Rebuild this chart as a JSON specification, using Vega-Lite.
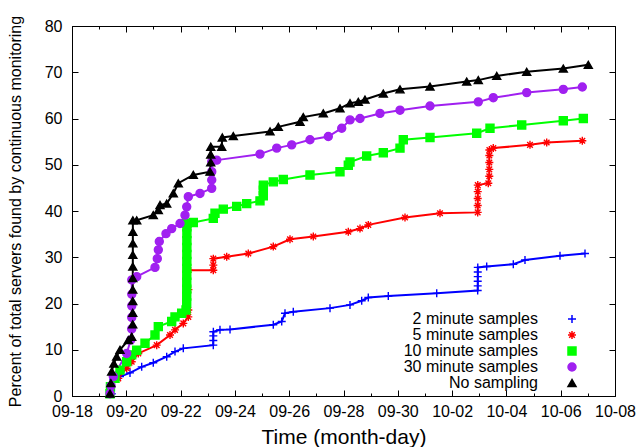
{
  "$schema": "https://vega.github.io/schema/vega-lite/v6.json",
  "width": 543,
  "height": 370,
  "autosize": "none",
  "padding": {"left": 72, "top": 26, "right": 21, "bottom": 51},
  "background": "white",
  "config": {
    "font": "Liberation Sans",
    "view": {"stroke": "black", "strokeWidth": 1},
    "axis": {"grid": false, "domainColor": "black", "tickColor": "black", "labelColor": "black", "titleColor": "black", "labelFontSize": 16, "labelFont": "Liberation Sans", "titleFont": "Liberation Sans", "titleFontWeight": "normal"},
    "legend": {"title": null, "orient": "none", "legendX": 492, "legendY": 285, "labelAlign": "right", "labelOffset": -42, "labelFontSize": 16, "labelFont": "Liberation Sans", "labelColor": "black", "rowPadding": 0, "padding": 0, "labelLimit": 300}
  },
  "data": {"values": [
    {"series": "2 minute samples", "time": "2010-09-19T11:05", "percent": 0.5},
    {"series": "2 minute samples", "time": "2010-09-19T12:30", "percent": 3.5},
    {"series": "2 minute samples", "time": "2010-09-19T18:26", "percent": 4.2},
    {"series": "2 minute samples", "time": "2010-09-20T03:16", "percent": 5.0},
    {"series": "2 minute samples", "time": "2010-09-20T13:36", "percent": 6.3},
    {"series": "2 minute samples", "time": "2010-09-20T23:51", "percent": 7.2},
    {"series": "2 minute samples", "time": "2010-09-21T11:43", "percent": 8.5},
    {"series": "2 minute samples", "time": "2010-09-21T19:03", "percent": 9.6},
    {"series": "2 minute samples", "time": "2010-09-22T02:23", "percent": 10.3},
    {"series": "2 minute samples", "time": "2010-09-23T04:54", "percent": 11.0},
    {"series": "2 minute samples", "time": "2010-09-23T04:55", "percent": 12.0},
    {"series": "2 minute samples", "time": "2010-09-23T04:56", "percent": 13.0},
    {"series": "2 minute samples", "time": "2010-09-23T04:57", "percent": 13.9},
    {"series": "2 minute samples", "time": "2010-09-23T10:49", "percent": 14.3},
    {"series": "2 minute samples", "time": "2010-09-23T19:41", "percent": 14.4},
    {"series": "2 minute samples", "time": "2010-09-25T09:56", "percent": 15.4},
    {"series": "2 minute samples", "time": "2010-09-25T17:23", "percent": 16.1},
    {"series": "2 minute samples", "time": "2010-09-25T20:17", "percent": 17.9},
    {"series": "2 minute samples", "time": "2010-09-26T03:37", "percent": 18.2},
    {"series": "2 minute samples", "time": "2010-09-27T12:04", "percent": 19.0},
    {"series": "2 minute samples", "time": "2010-09-28T05:44", "percent": 19.7},
    {"series": "2 minute samples", "time": "2010-09-28T16:05", "percent": 20.6},
    {"series": "2 minute samples", "time": "2010-09-28T21:55", "percent": 21.3},
    {"series": "2 minute samples", "time": "2010-09-29T15:36", "percent": 21.6},
    {"series": "2 minute samples", "time": "2010-10-01T10:24", "percent": 22.2},
    {"series": "2 minute samples", "time": "2010-10-02T22:37", "percent": 22.8},
    {"series": "2 minute samples", "time": "2010-10-02T22:38", "percent": 23.8},
    {"series": "2 minute samples", "time": "2010-10-02T22:39", "percent": 24.8},
    {"series": "2 minute samples", "time": "2010-10-02T22:40", "percent": 25.8},
    {"series": "2 minute samples", "time": "2010-10-02T22:41", "percent": 26.8},
    {"series": "2 minute samples", "time": "2010-10-02T22:42", "percent": 27.8},
    {"series": "2 minute samples", "time": "2010-10-03T06:35", "percent": 28.0},
    {"series": "2 minute samples", "time": "2010-10-04T06:06", "percent": 28.5},
    {"series": "2 minute samples", "time": "2010-10-04T16:26", "percent": 29.4},
    {"series": "2 minute samples", "time": "2010-10-05T23:23", "percent": 30.3},
    {"series": "2 minute samples", "time": "2010-10-06T21:29", "percent": 30.8},

    {"series": "5 minute samples", "time": "2010-09-19T09:36", "percent": 0.5},
    {"series": "5 minute samples", "time": "2010-09-19T10:00", "percent": 2.0},
    {"series": "5 minute samples", "time": "2010-09-19T16:55", "percent": 3.8},
    {"series": "5 minute samples", "time": "2010-09-20T00:22", "percent": 6.0},
    {"series": "5 minute samples", "time": "2010-09-20T04:47", "percent": 7.4},
    {"series": "5 minute samples", "time": "2010-09-20T10:36", "percent": 9.2},
    {"series": "5 minute samples", "time": "2010-09-21T02:53", "percent": 11.0},
    {"series": "5 minute samples", "time": "2010-09-21T14:38", "percent": 13.2},
    {"series": "5 minute samples", "time": "2010-09-21T19:03", "percent": 14.3},
    {"series": "5 minute samples", "time": "2010-09-22T02:23", "percent": 15.7},
    {"series": "5 minute samples", "time": "2010-09-22T06:49", "percent": 17.1},
    {"series": "5 minute samples", "time": "2010-09-22T06:50", "percent": 18.6},
    {"series": "5 minute samples", "time": "2010-09-22T06:55", "percent": 23.0},
    {"series": "5 minute samples", "time": "2010-09-22T07:00", "percent": 27.2},
    {"series": "5 minute samples", "time": "2010-09-23T04:54", "percent": 27.2},
    {"series": "5 minute samples", "time": "2010-09-23T04:55", "percent": 28.3},
    {"series": "5 minute samples", "time": "2010-09-23T04:56", "percent": 29.7},
    {"series": "5 minute samples", "time": "2010-09-23T16:45", "percent": 30.1},
    {"series": "5 minute samples", "time": "2010-09-24T11:51", "percent": 30.8},
    {"series": "5 minute samples", "time": "2010-09-25T09:56", "percent": 32.3},
    {"series": "5 minute samples", "time": "2010-09-26T00:42", "percent": 33.9},
    {"series": "5 minute samples", "time": "2010-09-26T21:19", "percent": 34.5},
    {"series": "5 minute samples", "time": "2010-09-28T04:15", "percent": 35.5},
    {"series": "5 minute samples", "time": "2010-09-28T14:36", "percent": 36.2},
    {"series": "5 minute samples", "time": "2010-09-28T21:55", "percent": 37.0},
    {"series": "5 minute samples", "time": "2010-09-30T06:22", "percent": 38.6},
    {"series": "5 minute samples", "time": "2010-10-01T13:18", "percent": 39.5},
    {"series": "5 minute samples", "time": "2010-10-02T22:37", "percent": 39.7},
    {"series": "5 minute samples", "time": "2010-10-02T22:38", "percent": 41.2},
    {"series": "5 minute samples", "time": "2010-10-02T22:39", "percent": 42.7},
    {"series": "5 minute samples", "time": "2010-10-02T22:40", "percent": 44.2},
    {"series": "5 minute samples", "time": "2010-10-02T22:41", "percent": 45.6},
    {"series": "5 minute samples", "time": "2010-10-03T08:00", "percent": 46.0},
    {"series": "5 minute samples", "time": "2010-10-03T08:53", "percent": 47.5},
    {"series": "5 minute samples", "time": "2010-10-03T08:54", "percent": 49.0},
    {"series": "5 minute samples", "time": "2010-10-03T08:55", "percent": 50.5},
    {"series": "5 minute samples", "time": "2010-10-03T08:56", "percent": 52.0},
    {"series": "5 minute samples", "time": "2010-10-03T08:57", "percent": 53.2},
    {"series": "5 minute samples", "time": "2010-10-03T12:24", "percent": 53.6},
    {"series": "5 minute samples", "time": "2010-10-04T20:51", "percent": 54.3},
    {"series": "5 minute samples", "time": "2010-10-05T11:37", "percent": 54.8},
    {"series": "5 minute samples", "time": "2010-10-06T19:06", "percent": 55.2},

    {"series": "10 minute samples", "time": "2010-09-19T09:36", "percent": 0.5},
    {"series": "10 minute samples", "time": "2010-09-19T10:00", "percent": 2.0},
    {"series": "10 minute samples", "time": "2010-09-19T14:01", "percent": 3.8},
    {"series": "10 minute samples", "time": "2010-09-19T18:26", "percent": 5.6},
    {"series": "10 minute samples", "time": "2010-09-20T00:22", "percent": 7.4},
    {"series": "10 minute samples", "time": "2010-09-20T04:47", "percent": 8.9},
    {"series": "10 minute samples", "time": "2010-09-20T09:12", "percent": 9.9},
    {"series": "10 minute samples", "time": "2010-09-20T16:32", "percent": 11.4},
    {"series": "10 minute samples", "time": "2010-09-21T01:22", "percent": 13.2},
    {"series": "10 minute samples", "time": "2010-09-21T04:18", "percent": 15.0},
    {"series": "10 minute samples", "time": "2010-09-21T16:08", "percent": 16.1},
    {"series": "10 minute samples", "time": "2010-09-21T19:03", "percent": 17.1},
    {"series": "10 minute samples", "time": "2010-09-22T00:58", "percent": 17.9},
    {"series": "10 minute samples", "time": "2010-09-22T04:47", "percent": 18.6},
    {"series": "10 minute samples", "time": "2010-09-22T05:24", "percent": 20.1},
    {"series": "10 minute samples", "time": "2010-09-22T05:25", "percent": 21.6},
    {"series": "10 minute samples", "time": "2010-09-22T05:26", "percent": 23.1},
    {"series": "10 minute samples", "time": "2010-09-22T05:27", "percent": 24.6},
    {"series": "10 minute samples", "time": "2010-09-22T05:28", "percent": 26.1},
    {"series": "10 minute samples", "time": "2010-09-22T05:29", "percent": 27.6},
    {"series": "10 minute samples", "time": "2010-09-22T05:30", "percent": 29.1},
    {"series": "10 minute samples", "time": "2010-09-22T05:31", "percent": 30.6},
    {"series": "10 minute samples", "time": "2010-09-22T05:32", "percent": 32.1},
    {"series": "10 minute samples", "time": "2010-09-22T05:33", "percent": 33.6},
    {"series": "10 minute samples", "time": "2010-09-22T05:34", "percent": 35.1},
    {"series": "10 minute samples", "time": "2010-09-22T05:35", "percent": 36.6},
    {"series": "10 minute samples", "time": "2010-09-22T05:36", "percent": 37.3},
    {"series": "10 minute samples", "time": "2010-09-22T11:14", "percent": 37.5},
    {"series": "10 minute samples", "time": "2010-09-23T04:54", "percent": 38.4},
    {"series": "10 minute samples", "time": "2010-09-23T06:24", "percent": 39.5},
    {"series": "10 minute samples", "time": "2010-09-23T13:45", "percent": 40.4},
    {"series": "10 minute samples", "time": "2010-09-24T01:35", "percent": 41.0},
    {"series": "10 minute samples", "time": "2010-09-24T10:26", "percent": 41.6},
    {"series": "10 minute samples", "time": "2010-09-24T22:11", "percent": 42.2},
    {"series": "10 minute samples", "time": "2010-09-25T01:06", "percent": 43.3},
    {"series": "10 minute samples", "time": "2010-09-25T01:07", "percent": 44.5},
    {"series": "10 minute samples", "time": "2010-09-25T01:08", "percent": 45.6},
    {"series": "10 minute samples", "time": "2010-09-25T09:56", "percent": 46.3},
    {"series": "10 minute samples", "time": "2010-09-25T18:48", "percent": 46.8},
    {"series": "10 minute samples", "time": "2010-09-26T18:23", "percent": 47.8},
    {"series": "10 minute samples", "time": "2010-09-27T20:54", "percent": 48.5},
    {"series": "10 minute samples", "time": "2010-09-28T04:15", "percent": 49.9},
    {"series": "10 minute samples", "time": "2010-09-28T05:44", "percent": 50.6},
    {"series": "10 minute samples", "time": "2010-09-28T20:30", "percent": 51.9},
    {"series": "10 minute samples", "time": "2010-09-29T11:11", "percent": 52.6},
    {"series": "10 minute samples", "time": "2010-09-30T01:57", "percent": 53.6},
    {"series": "10 minute samples", "time": "2010-09-30T04:52", "percent": 55.4},
    {"series": "10 minute samples", "time": "2010-10-01T04:28", "percent": 55.9},
    {"series": "10 minute samples", "time": "2010-10-02T21:45", "percent": 56.8},
    {"series": "10 minute samples", "time": "2010-10-03T09:30", "percent": 57.9},
    {"series": "10 minute samples", "time": "2010-10-04T13:32", "percent": 58.6},
    {"series": "10 minute samples", "time": "2010-10-06T02:18", "percent": 59.5},
    {"series": "10 minute samples", "time": "2010-10-06T20:00", "percent": 60.0},

    {"series": "30 minute samples", "time": "2010-09-19T09:36", "percent": 0.5},
    {"series": "30 minute samples", "time": "2010-09-19T10:30", "percent": 2.2},
    {"series": "30 minute samples", "time": "2010-09-19T12:30", "percent": 4.2},
    {"series": "30 minute samples", "time": "2010-09-20T00:22", "percent": 9.2},
    {"series": "30 minute samples", "time": "2010-09-20T03:53", "percent": 12.1},
    {"series": "30 minute samples", "time": "2010-09-20T04:47", "percent": 14.5},
    {"series": "30 minute samples", "time": "2010-09-20T04:48", "percent": 17.0},
    {"series": "30 minute samples", "time": "2010-09-20T04:49", "percent": 19.5},
    {"series": "30 minute samples", "time": "2010-09-20T04:50", "percent": 22.0},
    {"series": "30 minute samples", "time": "2010-09-20T04:51", "percent": 25.1},
    {"series": "30 minute samples", "time": "2010-09-20T09:12", "percent": 25.8},
    {"series": "30 minute samples", "time": "2010-09-21T01:22", "percent": 27.8},
    {"series": "30 minute samples", "time": "2010-09-21T03:24", "percent": 29.7},
    {"series": "30 minute samples", "time": "2010-09-21T04:18", "percent": 31.6},
    {"series": "30 minute samples", "time": "2010-09-21T05:10", "percent": 33.4},
    {"series": "30 minute samples", "time": "2010-09-21T11:05", "percent": 35.1},
    {"series": "30 minute samples", "time": "2010-09-21T16:08", "percent": 36.2},
    {"series": "30 minute samples", "time": "2010-09-21T23:28", "percent": 37.3},
    {"series": "30 minute samples", "time": "2010-09-22T03:53", "percent": 39.1},
    {"series": "30 minute samples", "time": "2010-09-22T05:24", "percent": 40.9},
    {"series": "30 minute samples", "time": "2010-09-22T06:49", "percent": 43.1},
    {"series": "30 minute samples", "time": "2010-09-22T17:10", "percent": 43.8},
    {"series": "30 minute samples", "time": "2010-09-23T03:30", "percent": 44.9},
    {"series": "30 minute samples", "time": "2010-09-23T03:31", "percent": 46.7},
    {"series": "30 minute samples", "time": "2010-09-23T03:32", "percent": 48.5},
    {"series": "30 minute samples", "time": "2010-09-23T03:33", "percent": 50.7},
    {"series": "30 minute samples", "time": "2010-09-23T07:55", "percent": 51.0},
    {"series": "30 minute samples", "time": "2010-09-24T22:11", "percent": 52.3},
    {"series": "30 minute samples", "time": "2010-09-25T12:58", "percent": 53.6},
    {"series": "30 minute samples", "time": "2010-09-26T02:12", "percent": 54.3},
    {"series": "30 minute samples", "time": "2010-09-26T18:23", "percent": 55.4},
    {"series": "30 minute samples", "time": "2010-09-27T10:34", "percent": 56.1},
    {"series": "30 minute samples", "time": "2010-09-27T22:25", "percent": 57.9},
    {"series": "30 minute samples", "time": "2010-09-28T05:44", "percent": 59.7},
    {"series": "30 minute samples", "time": "2010-09-28T14:36", "percent": 60.0},
    {"series": "30 minute samples", "time": "2010-09-29T08:15", "percent": 61.1},
    {"series": "30 minute samples", "time": "2010-09-30T01:57", "percent": 61.8},
    {"series": "30 minute samples", "time": "2010-10-01T04:28", "percent": 62.7},
    {"series": "30 minute samples", "time": "2010-10-02T23:10", "percent": 63.6},
    {"series": "30 minute samples", "time": "2010-10-03T12:24", "percent": 64.5},
    {"series": "30 minute samples", "time": "2010-10-04T17:57", "percent": 65.6},
    {"series": "30 minute samples", "time": "2010-10-06T02:18", "percent": 66.3},
    {"series": "30 minute samples", "time": "2010-10-06T19:06", "percent": 66.8},

    {"series": "No sampling", "time": "2010-09-19T09:36", "percent": 0.5},
    {"series": "No sampling", "time": "2010-09-19T10:20", "percent": 2.8},
    {"series": "No sampling", "time": "2010-09-19T11:05", "percent": 5.3},
    {"series": "No sampling", "time": "2010-09-19T13:00", "percent": 7.0},
    {"series": "No sampling", "time": "2010-09-19T15:30", "percent": 8.5},
    {"series": "No sampling", "time": "2010-09-19T18:26", "percent": 10.0},
    {"series": "No sampling", "time": "2010-09-20T01:47", "percent": 12.1},
    {"series": "No sampling", "time": "2010-09-20T04:47", "percent": 12.8},
    {"series": "No sampling", "time": "2010-09-20T05:40", "percent": 15.5},
    {"series": "No sampling", "time": "2010-09-20T05:41", "percent": 18.0},
    {"series": "No sampling", "time": "2010-09-20T05:42", "percent": 20.5},
    {"series": "No sampling", "time": "2010-09-20T05:43", "percent": 23.0},
    {"series": "No sampling", "time": "2010-09-20T05:44", "percent": 25.5},
    {"series": "No sampling", "time": "2010-09-20T05:45", "percent": 28.0},
    {"series": "No sampling", "time": "2010-09-20T05:46", "percent": 30.5},
    {"series": "No sampling", "time": "2010-09-20T05:47", "percent": 33.0},
    {"series": "No sampling", "time": "2010-09-20T05:48", "percent": 35.5},
    {"series": "No sampling", "time": "2010-09-20T05:49", "percent": 38.0},
    {"series": "No sampling", "time": "2010-09-20T09:12", "percent": 38.0},
    {"series": "No sampling", "time": "2010-09-20T23:51", "percent": 39.1},
    {"series": "No sampling", "time": "2010-09-21T04:18", "percent": 40.2},
    {"series": "No sampling", "time": "2010-09-21T05:47", "percent": 41.3},
    {"series": "No sampling", "time": "2010-09-21T11:43", "percent": 41.6},
    {"series": "No sampling", "time": "2010-09-21T17:33", "percent": 43.8},
    {"series": "No sampling", "time": "2010-09-21T21:58", "percent": 46.0},
    {"series": "No sampling", "time": "2010-09-22T11:14", "percent": 47.8},
    {"series": "No sampling", "time": "2010-09-23T02:00", "percent": 48.5},
    {"series": "No sampling", "time": "2010-09-23T02:37", "percent": 50.5},
    {"series": "No sampling", "time": "2010-09-23T02:38", "percent": 52.2},
    {"series": "No sampling", "time": "2010-09-23T02:39", "percent": 53.9},
    {"series": "No sampling", "time": "2010-09-23T12:20", "percent": 53.9},
    {"series": "No sampling", "time": "2010-09-23T12:50", "percent": 55.9},
    {"series": "No sampling", "time": "2010-09-23T22:35", "percent": 56.2},
    {"series": "No sampling", "time": "2010-09-25T07:02", "percent": 57.2},
    {"series": "No sampling", "time": "2010-09-25T14:23", "percent": 58.2},
    {"series": "No sampling", "time": "2010-09-26T09:33", "percent": 59.3},
    {"series": "No sampling", "time": "2010-09-26T12:27", "percent": 60.3},
    {"series": "No sampling", "time": "2010-09-27T06:09", "percent": 61.1},
    {"series": "No sampling", "time": "2010-09-27T20:54", "percent": 62.2},
    {"series": "No sampling", "time": "2010-09-28T05:44", "percent": 63.3},
    {"series": "No sampling", "time": "2010-09-28T13:05", "percent": 63.6},
    {"series": "No sampling", "time": "2010-09-28T19:00", "percent": 64.1},
    {"series": "No sampling", "time": "2010-09-29T11:11", "percent": 65.4},
    {"series": "No sampling", "time": "2010-09-30T01:57", "percent": 66.3},
    {"series": "No sampling", "time": "2010-10-01T04:28", "percent": 66.9},
    {"series": "No sampling", "time": "2010-10-02T12:55", "percent": 68.0},
    {"series": "No sampling", "time": "2010-10-02T23:10", "percent": 68.3},
    {"series": "No sampling", "time": "2010-10-03T15:26", "percent": 69.2},
    {"series": "No sampling", "time": "2010-10-04T17:57", "percent": 70.1},
    {"series": "No sampling", "time": "2010-10-06T02:18", "percent": 70.8},
    {"series": "No sampling", "time": "2010-10-07T00:24", "percent": 71.6}
  ]},
  "resolve": {"axis": {"x": "independent", "y": "independent"}},
  "layer": [
    {
      "mark": {"type": "line", "strokeWidth": 2, "interpolate": "linear"},
      "encoding": {
        "x": {"field": "time", "type": "temporal",
          "scale": {"domain": [{"year": 2010, "month": 9, "date": 18}, {"year": 2010, "month": 10, "date": 8}], "nice": false},
          "axis": {"orient": "bottom", "title": "Time (month-day)", "titleFontSize": 21, "titlePadding": 4,
            "tickCount": {"interval": "day", "step": 1},
            "labelExpr": "round((datum.value - datetime(2010,8,18))/86400000) % 2 == 0 ? timeFormat(datum.value, '%m-%d') : ''",
            "labelOverlap": false, "labelFlush": false, "labelPadding": 13,
            "tickSize": {"condition": {"test": "round((datum.value - datetime(2010,8,18))/86400000) % 2 == 0", "value": -6}, "value": -3}}},
        "y": {"field": "percent", "type": "quantitative",
          "scale": {"domain": [0, 80], "nice": false},
          "axis": {"orient": "left", "title": "Percent of total servers found by continuous monitoring", "titleFontSize": 16, "titlePadding": 21,
            "values": [0, 10, 20, 30, 40, 50, 60, 70, 80], "tickSize": -6, "labelPadding": 16}},
        "color": {"field": "series", "type": "nominal",
          "scale": {"domain": ["2 minute samples", "5 minute samples", "10 minute samples", "30 minute samples", "No sampling"], "range": ["#0000ff", "#ff0000", "#00ff00", "#a020f0", "#000000"]}}
      }
    },
    {
      "mark": {"type": "point", "filled": true, "strokeWidth": 1.4, "opacity": 1},
      "encoding": {
        "x": {"field": "time", "type": "temporal", "axis": null},
        "y": {"field": "percent", "type": "quantitative", "axis": null},
        "color": {"field": "series", "type": "nominal",
          "scale": {"domain": ["2 minute samples", "5 minute samples", "10 minute samples", "30 minute samples", "No sampling"], "range": ["#0000ff", "#ff0000", "#00ff00", "#a020f0", "#000000"]}},
        "stroke": {"field": "series", "type": "nominal",
          "scale": {"domain": ["2 minute samples", "5 minute samples", "10 minute samples", "30 minute samples", "No sampling"], "range": ["#0000ff", "#ff0000", "#00ff00", "#a020f0", "#000000"]}},
        "shape": {"field": "series", "type": "nominal",
          "scale": {"domain": ["2 minute samples", "5 minute samples", "10 minute samples", "30 minute samples", "No sampling"], "range": ["M-1,0L1,0M0,-1L0,1", "M-1,0L1,0M0,-1L0,1M-0.7,-0.7L0.7,0.7M-0.7,0.7L0.7,-0.7", "square", "circle", "triangle-up"]}},
        "size": {"field": "series", "type": "nominal",
          "scale": {"domain": ["2 minute samples", "5 minute samples", "10 minute samples", "30 minute samples", "No sampling"], "range": [64, 64, 60, 72, 36]}}
      }
    },
    {
      "mark": {"type": "point", "opacity": 0},
      "encoding": {
        "x": {"field": "time", "type": "temporal",
          "axis": {"orient": "top", "title": null, "labels": false, "domain": false,
            "tickCount": {"interval": "day", "step": 1},
            "tickSize": {"condition": {"test": "round((datum.value - datetime(2010,8,18))/86400000) % 2 == 0", "value": -6}, "value": -3}}},
        "y": {"field": "percent", "type": "quantitative",
          "axis": {"orient": "right", "title": null, "labels": false, "domain": false,
            "values": [0, 10, 20, 30, 40, 50, 60, 70, 80], "tickSize": -6}}
      }
    }
  ]
}
